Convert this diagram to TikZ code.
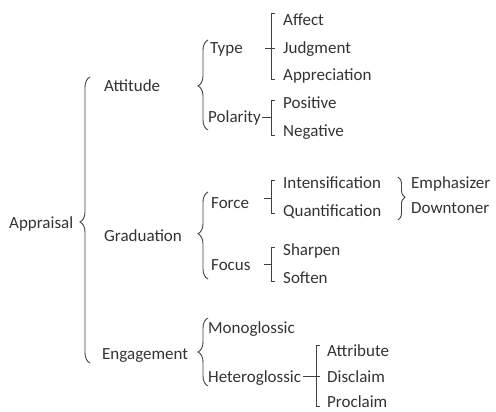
\documentclass[tikz,border=0pt]{standalone}
\usepackage{fontspec}
\setmainfont{Carlito}
\usetikzlibrary{decorations.pathreplacing}
\begin{document}
\begin{tikzpicture}[x=1pt,y=1pt,
  lbl/.style={anchor=base west,inner sep=0pt,font=\fontsize{17}{20}\selectfont,text=black!80},
  ln/.style={draw=black!75,line width=0.9pt},
  brc/.style={ln,decorate,decoration={brace,amplitude=#1}},
  ]
\useasboundingbox (0,0) rectangle (496,-412);
% text nodes
\node[lbl] (app) at (9,-228) {Appraisal};
\node[lbl] (att) at (104,-92) {Attitude};
\node[lbl] (gra) at (104,-241) {Graduation};
\node[lbl] (eng) at (102,-359) {Engagement};
\node[lbl] (typ) at (210,-54) {Type};
\node[lbl] (pol) at (208,-123) {Polarity};
\node[lbl] (aff) at (283,-26) {Affect};
\node[lbl] (jud) at (283,-54) {Judgment};
\node[lbl] (apr) at (283,-81) {Appreciation};
\node[lbl] (pos) at (283,-109) {Positive};
\node[lbl] (neg) at (283,-137) {Negative};
\node[lbl] (frc) at (211,-208) {Force};
\node[lbl] (foc) at (211,-270) {Focus};
\node[lbl] (ins) at (283,-188) {Intensification};
\node[lbl] (qua) at (283,-216) {Quantification};
\node[lbl] (emp) at (411,-189) {Emphasizer};
\node[lbl] (dwn) at (411,-213) {Downtoner};
\node[lbl] (shp) at (283,-255) {Sharpen};
\node[lbl] (sof) at (283,-283) {Soften};
\node[lbl] (mon) at (208,-333) {Monoglossic};
\node[lbl] (het) at (208,-382) {Heteroglossic};
\node[lbl] (atr) at (327,-356) {Attribute};
\node[lbl] (dis) at (327,-382) {Disclaim};
\node[lbl,text depth=0pt] (pro) at (327,-407) {Proclaim};
% curly braces
\draw[brc=10pt,decoration={aspect=0.493}] (90,-363) -- (90,-77);
\draw[brc=10pt,decoration={aspect=0.49}] (208,-130) -- (208,-40);
\draw[brc=10pt,decoration={aspect=0.52}] (208,-279) -- (208,-192);
\draw[brc=10pt,decoration={aspect=0.5}] (208,-386) -- (208,-318);
\draw[brc=7pt,decoration={aspect=0.47}] (398,-177) -- (398,-220);
% square brackets
\draw[ln] (275,-13) -- (271,-13) -- (271,-79) -- (275,-79);
\draw[ln] (265,-48) -- (275,-48);
\draw[ln] (275,-100) -- (271,-100) -- (271,-135) -- (275,-135);
\draw[ln] (262,-117) -- (271,-117);
\draw[ln] (275,-180) -- (271,-180) -- (271,-213) -- (275,-213);
\draw[ln] (264,-198) -- (271,-198);
\draw[ln] (275,-247) -- (271,-247) -- (271,-281) -- (275,-281);
\draw[ln] (264,-264) -- (271,-264);
\draw[ln] (320,-345) -- (316,-345) -- (316,-406) -- (320,-406);
\draw[ln] (303,-376) -- (320,-376);
\end{tikzpicture}
\end{document}
